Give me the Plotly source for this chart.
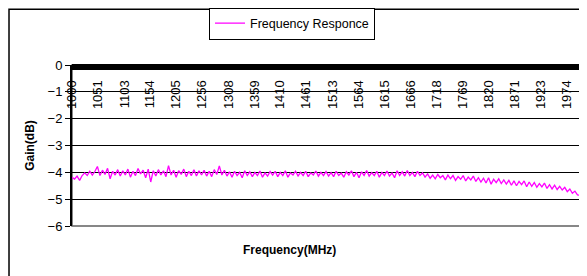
import plotly.graph_objects as go

# Frequency points (MHz), 5 MHz spacing
freqs = [1000 + 5 * i for i in range(201)]

# Gain (dB)
gain = [
    -4.18, -4.25, -4.14, -4.30, -4.12, -4.02, -4.12, -3.96, -4.10, -3.97,
    -3.78, -4.12, -3.92, -4.08, -3.85, -4.24, -3.96, -4.10, -3.90, -4.14,
    -3.94, -4.10, -3.88, -4.18, -3.96, -4.12, -3.86, -4.06, -3.92, -4.20,
    -3.88, -4.36, -3.94, -4.14, -3.90, -4.10, -3.94, -4.16, -3.75, -4.10,
    -3.92, -4.18, -3.94, -4.08, -3.88, -4.16, -3.96, -4.12, -3.90, -4.14,
    -3.94, -4.10, -3.92, -4.14, -3.96, -4.16, -3.90, -4.08, -3.76, -4.10,
    -3.92, -4.14, -3.98, -4.18, -3.96, -4.12, -4.00, -4.20, -3.94, -4.12,
    -3.98, -4.16, -4.00, -4.12, -3.95, -4.18, -4.02, -4.14, -3.97, -4.10,
    -3.96, -4.16, -4.00, -4.12, -3.94, -4.18, -4.02, -4.10, -3.96, -4.14,
    -4.00, -4.12, -3.96, -4.16, -4.02, -4.10, -3.95, -4.14, -4.00, -4.12,
    -3.97, -4.14, -4.01, -4.16, -3.96, -4.12, -4.03, -4.18, -3.98, -4.10,
    -3.94, -4.16, -4.00, -4.20, -3.98, -4.12, -3.93, -4.14, -4.01, -4.12,
    -3.96, -4.18, -4.00, -4.12, -3.95, -4.14, -4.02, -4.20, -3.94, -4.12,
    -3.98, -4.14, -3.93, -4.12, -4.00, -4.16, -3.96, -4.12, -4.02, -4.18,
    -4.06, -4.22, -4.10, -4.24, -4.08, -4.20, -4.12, -4.28, -4.10, -4.24,
    -4.12, -4.30, -4.16, -4.26, -4.12, -4.32, -4.18, -4.28, -4.14, -4.34,
    -4.20, -4.36, -4.22, -4.40, -4.20, -4.44, -4.26, -4.38, -4.24, -4.42,
    -4.28, -4.44, -4.30, -4.48, -4.32, -4.50, -4.34, -4.46, -4.32, -4.54,
    -4.36, -4.52, -4.38, -4.56, -4.42, -4.54, -4.40, -4.60, -4.46, -4.62,
    -4.48, -4.64, -4.52, -4.66, -4.56, -4.72, -4.62, -4.78, -4.70, -4.84,
    -4.86,
]

tick_labels = ["1000", "1051", "1103", "1154", "1205", "1256", "1308", "1359",
               "1410", "1461", "1513", "1564", "1615", "1666", "1718", "1769",
               "1820", "1871", "1923", "1974"]
tick_vals = [int(t) for t in tick_labels]

y_ticks = [0, -1, -2, -3, -4, -5, -6]

FONT = "Arial, Liberation Sans, sans-serif"

fig = go.Figure()
fig.add_trace(go.Scatter(
    x=freqs, y=gain, mode="lines", name="Frequency Responce",
    line=dict(color="#FF00FF", width=1.3),
))

# the page body adds an 8px offset, so margins are shifted to compensate
fig.update_layout(
    width=587, height=276,
    margin=dict(l=64, r=15, t=57, b=58, autoexpand=False),
    paper_bgcolor="white", plot_bgcolor="white",
    font=dict(family=FONT, size=12, color="black"),
    showlegend=True,
    legend=dict(x=0.2697, y=1.357, xanchor="left", yanchor="top",
                bordercolor="black", borderwidth=1, bgcolor="white",
                font=dict(family=FONT, size=12.5)),
    xaxis=dict(
        range=[1000, 2000], side="bottom", anchor="free", position=1,
        automargin=False,
        tickvals=tick_vals, ticktext=tick_labels, tickangle=-90,
        ticks="outside", ticklen=4, tickcolor="black",
        ticklabelstandoff=5,
        tickfont=dict(family=FONT, size=13),
        minor=dict(dtick=1.25, ticks="outside", ticklen=4, tickcolor="black", showgrid=False),
        showgrid=False, showline=True, linecolor="black", linewidth=2,
        zeroline=False,
    ),
    yaxis=dict(
        range=[-6, 0], tickvals=y_ticks, ticks="outside", ticklen=5,
        automargin=False,
        tickcolor="black", showgrid=True, gridcolor="black", gridwidth=1,
        showline=True, linecolor="black", linewidth=2, zeroline=False,
        tickfont=dict(family=FONT, size=13),
        title=dict(text="<b>Gain(dB)</b>", font=dict(family=FONT, size=12), standoff=10),
    ),
    shapes=[
        dict(type="rect", xref="paper", yref="paper", x0=0, x1=1, y0=0, y1=1,
             line=dict(color="#606060", width=1.5), layer="below"),
        dict(type="rect", xref="paper", yref="paper", x0=-0.124, x1=1.05,
             y0=-0.4, y1=1.347, line=dict(color="black", width=1.5)),
    ],
    annotations=[
        dict(text="<b>Frequency(MHz)</b>", xref="paper", yref="paper",
             x=0.429, y=-0.149, xanchor="center", yanchor="middle",
             showarrow=False, font=dict(family=FONT, size=12)),
    ],
)

fig.write_html("out.html")
